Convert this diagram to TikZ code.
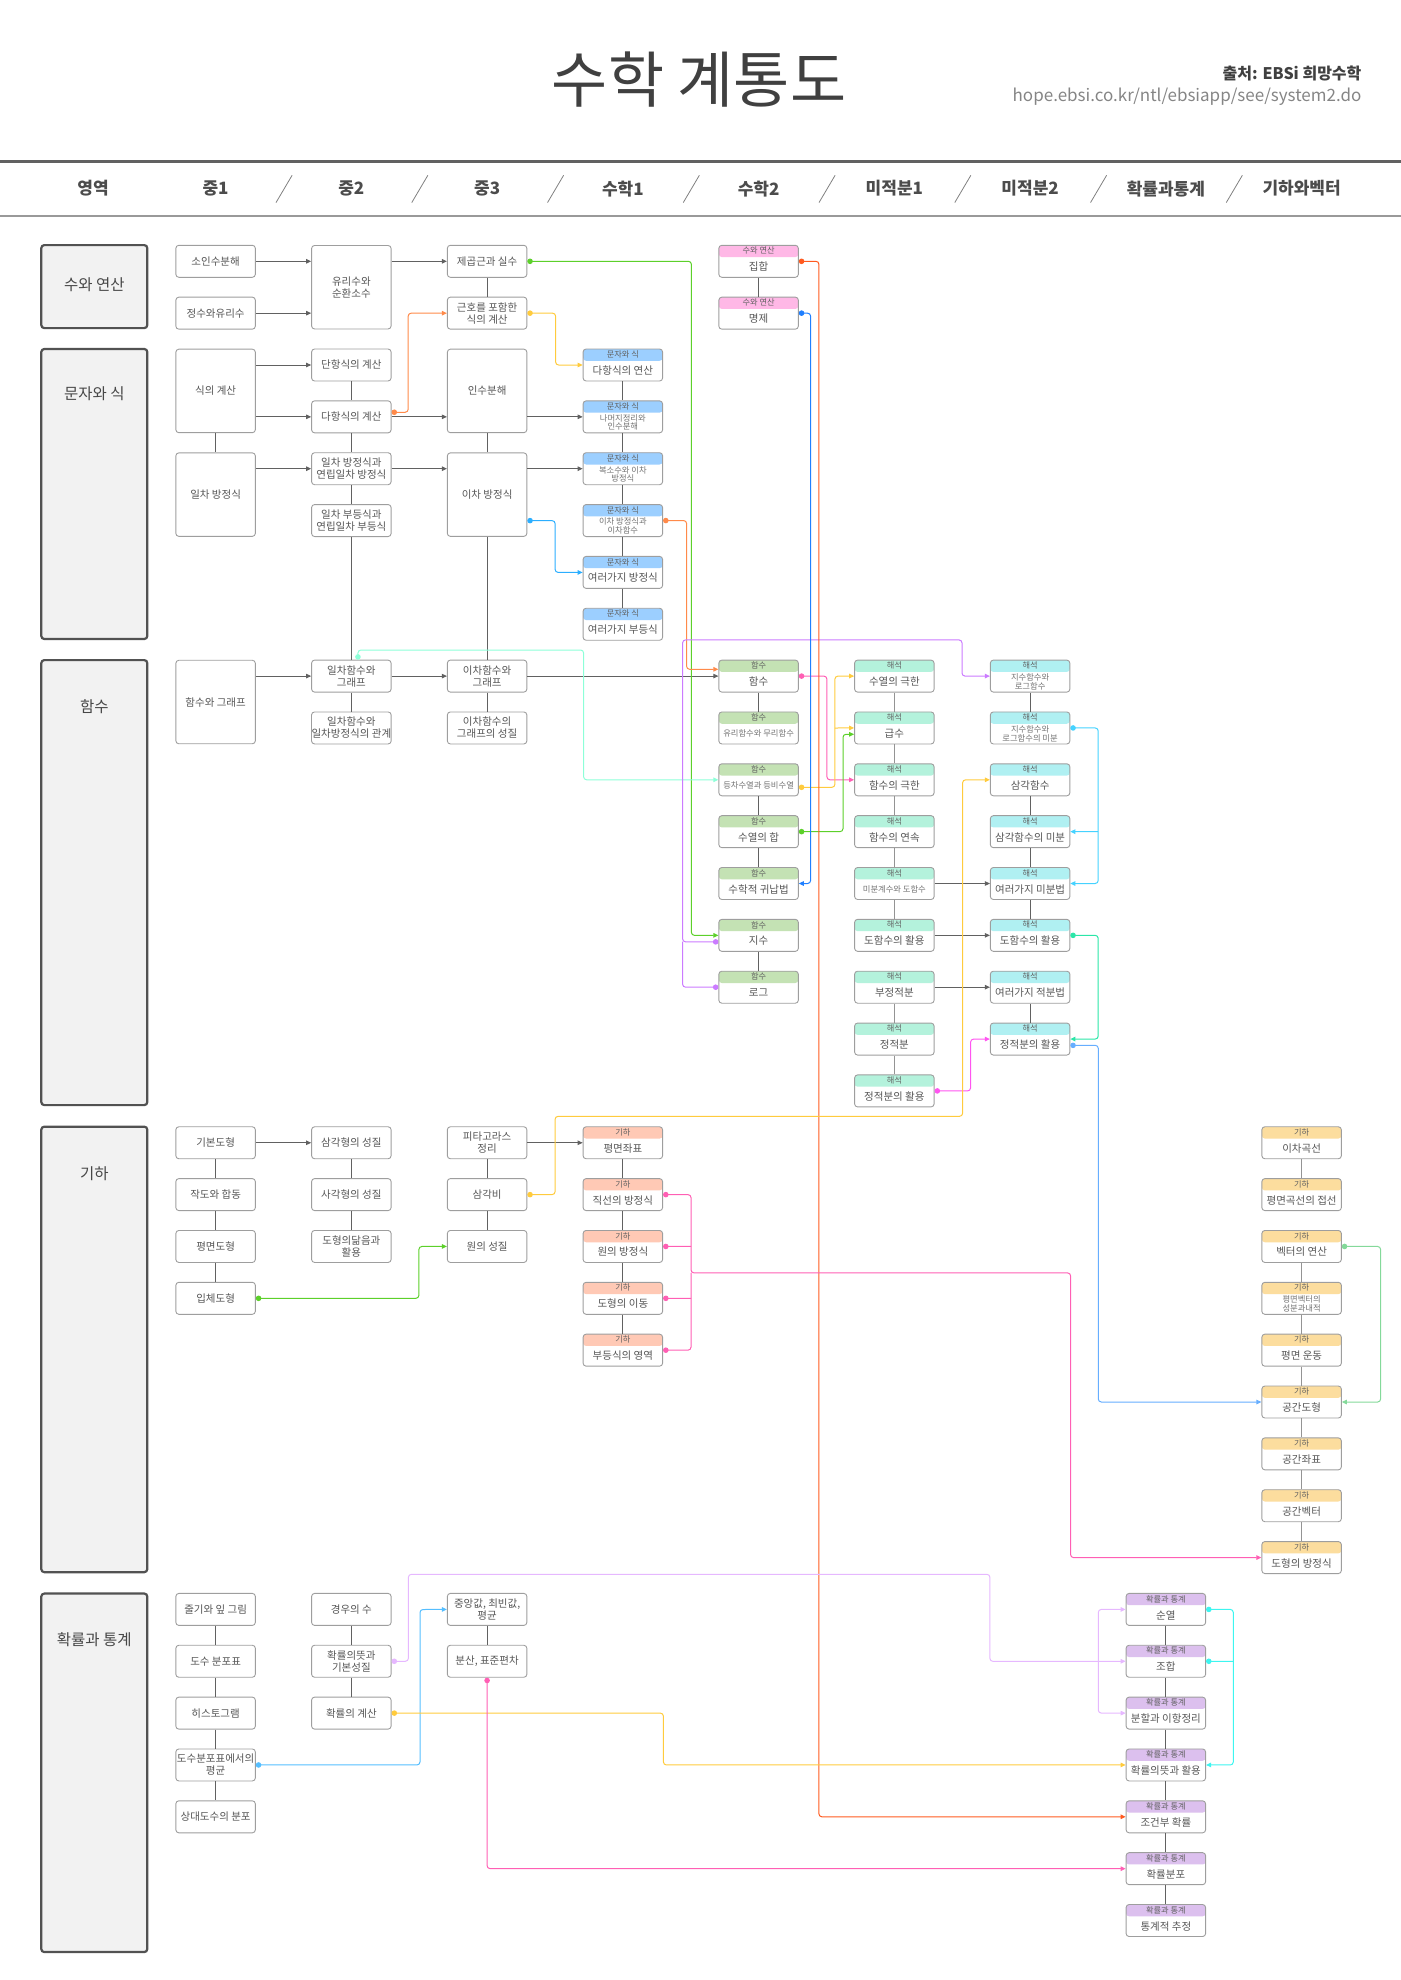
\documentclass[tikz,border=0pt]{standalone}
\usepackage{fontspec}
\setmainfont{Noto Sans CJK KR}
\usetikzlibrary{arrows.meta}
\definecolor{cset}{HTML}{FFB8E6}
\definecolor{calg}{HTML}{9CCFFF}
\definecolor{cfun}{HTML}{C4E2B4}
\definecolor{cana}{HTML}{B4F2DC}
\definecolor{cdif}{HTML}{B0F0F2}
\definecolor{cgeo}{HTML}{FFC9B5}
\definecolor{cvec}{HTML}{FCDD9E}
\definecolor{csta}{HTML}{DCC0EE}
\definecolor{lgreen}{HTML}{5CD02A}
\definecolor{lyellow}{HTML}{FFCB3D}
\definecolor{lsky}{HTML}{2BAEFF}
\definecolor{lorange}{HTML}{FF8A4A}
\definecolor{lred}{HTML}{FF5A1F}
\definecolor{lmint}{HTML}{8DFFD8}
\definecolor{lpurple}{HTML}{CB7BFF}
\definecolor{lpink}{HTML}{FF5FB4}
\definecolor{lblue}{HTML}{1F7FFF}
\definecolor{lcyan}{HTML}{45D2FF}
\definecolor{lteal}{HTML}{2BE6A8}
\definecolor{lpale}{HTML}{66AEFF}
\definecolor{lmagenta}{HTML}{FF55F0}
\definecolor{lleaf}{HTML}{84D99A}
\definecolor{llilac}{HTML}{E6B8FF}
\definecolor{laqua}{HTML}{3DF5F0}
\newcommand{\unit}[5][]{\node[unit,#1] (#2) at ({215+135.75*(#3-1)},{260.7+51.85*#4}) {#5};}
\newcommand{\tagged}[7][]{%
  \node[unit,band=#5] (#2) at ({215+135.75*(#3-1)},{260.7+51.85*#4}) {};
  \node[tagtext] (#2 tag) at ([yshift=-6pt]#2.north) {#6};
  \node[bodytext,#1] (#2 body) at ([yshift=-5.6pt]#2.center) {#7};}
\begin{document}
\begin{tikzpicture}[x=1pt,y=-1pt,
    unit/.style={draw=black!38,fill=white,line width=0.9pt,rounded corners=3pt,
      minimum width=79.5pt,minimum height=32pt,inner sep=0pt,align=center,text=black!66,
      font=\fontsize{10.5}{12}\selectfont},
    tall/.style={minimum height=83.5pt},
    band/.style={path picture={\fill[#1] (path picture bounding box.north west)
      rectangle ([yshift=-11.8pt]path picture bounding box.north east);}},
    tagtext/.style={inner sep=0pt,text=black!62,font=\fontsize{8.2}{9}\selectfont},
    bodytext/.style={inner sep=0pt,align=center,text=black!66,font=\fontsize{10.5}{12}\selectfont},
    fine/.style={text=black!55,font=\fontsize{8.3}{8.8}\selectfont},
    region/.style={draw=black!68,fill=black!5,line width=2.2pt,rounded corners=3pt,
      minimum width=106pt,inner sep=0pt},
    regiontext/.style={inner sep=0pt,text=black!72,font=\fontsize{15.5}{18}\selectfont},
    heading/.style={inner sep=0pt,text=black!70,font=\fontsize{17}{20}\selectfont\bfseries},
    stem/.style={draw=black!62,line width=0.9pt},
    stemb/.style={draw=black!42,line width=1.5pt},
    flow/.style={draw=black!62,line width=0.9pt,-{Triangle[length=5pt,width=4.5pt]}},
    dotlink/.style={rounded corners=3pt,line width=1pt,{Circle[length=5.5pt]}-{Triangle[length=5pt,width=4.5pt]}},
    dotline/.style={rounded corners=3pt,line width=1pt,{Circle[length=5.5pt]}-},
    forklink/.style={rounded corners=3pt,line width=1pt,-{Triangle[length=5pt,width=4.5pt]}}]
  \useasboundingbox (-0.6,-0.6) rectangle (1399.4,1979.4);
  \node[inner sep=0pt,text=black!75,font=\fontsize{61}{66}\selectfont] (title) at (698.5,79) {수학 계통도};
  \node[anchor=east,inner sep=0pt,text=black!75,font=\fontsize{16}{18}\selectfont\bfseries] (source) at (1361,72.5) {출처: EBSi 희망수학};
  \node[anchor=east,inner sep=0pt,text=black!48,font=\fontsize{17}{18}\selectfont] (address) at (1361,96) {hope.ebsi.co.kr/ntl/ebsiapp/see/system2.do};
  \draw[draw=black!62,line width=2.2pt] (-1,161) -- (1400,161);
  \draw[draw=black!40,line width=2.2pt] (-1,215.5) -- (1400,215.5);
  \node[heading] (area) at (92.5,188) {영역};
  \foreach \hname/\col/\htext in {mid1/1/중1,mid2/2/중2,mid3/3/중3,high1/4/수학1,high2/5/수학2,
      calc1/6/미적분1,calc2/7/미적분2,stat/8/확률과통계,vect/9/기하와벡터}
    \node[heading] (\hname) at ({215+135.75*(\col-1)},188) {\htext};
  \foreach \col in {0,...,7}
    \draw[draw=black!50,line width=0.8pt] ({275.4+135.75*\col},202) -- ({291.5+135.75*\col},174.7);

  \node[region,minimum height=83pt] (sec1) at (93.7,286) {};
  \node[regiontext] (sec1 label) at ([yshift=-41pt]sec1.north) {수와 연산};
  \node[region,minimum height=290pt] (sec2) at (93.7,493.4) {};
  \node[regiontext] (sec2 label) at ([yshift=-46pt]sec2.north) {문자와 식};
  \node[region,minimum height=445pt] (sec3) at (93.7,882) {};
  \node[regiontext] (sec3 label) at ([yshift=-48pt]sec3.north) {함수};
  \node[region,minimum height=445.5pt] (sec4) at (93.7,1348.8) {};
  \node[regiontext] (sec4 label) at ([yshift=-48pt]sec4.north) {기하};
  \node[region,minimum height=358.5pt] (sec5) at (93.7,1772.2) {};
  \node[regiontext] (sec5 label) at ([yshift=-47pt]sec5.north) {확률과 통계};

  \unit{prime}{1}{0}{소인수분해}
  \unit{intrat}{1}{1}{정수와유리수}
  \unit[tall]{rational}{2}{0.5}{유리수와\\순환소수}
  \unit{sqrtreal}{3}{0}{제곱근과 실수}
  \unit{radical}{3}{1}{근호를 포함한\\식의 계산}
  \tagged{set}{5}{0}{cset}{수와 연산}{집합}
  \tagged{prop}{5}{1}{cset}{수와 연산}{명제}

  \unit[tall]{expr}{1}{2.5}{식의 계산}
  \unit[tall]{lineq}{1}{4.5}{일차 방정식}
  \unit{mono}{2}{2}{단항식의 계산}
  \unit{poly}{2}{3}{다항식의 계산}
  \unit{simul}{2}{4}{일차 방정식과\\연립일차 방정식}
  \unit{ineq}{2}{5}{일차 부등식과\\연립일차 부등식}
  \unit[tall]{factor}{3}{2.5}{인수분해}
  \unit[tall]{quad}{3}{4.5}{이차 방정식}
  \tagged{polyop}{4}{2}{calg}{문자와 식}{다항식의 연산}
  \tagged[fine]{remain}{4}{3}{calg}{문자와 식}{나머지정리와\\인수분해}
  \tagged[fine]{complex}{4}{4}{calg}{문자와 식}{복소수와 이차\\방정식}
  \tagged[fine]{quadfn}{4}{5}{calg}{문자와 식}{이차 방정식과\\이차함수}
  \tagged{vareq}{4}{6}{calg}{문자와 식}{여러가지 방정식}
  \tagged{varineq}{4}{7}{calg}{문자와 식}{여러가지 부등식}

  \unit[tall]{fgraph}{1}{8.5}{함수와 그래프}
  \unit{lfunc}{2}{8}{일차함수와\\그래프}
  \unit{lrel}{2}{9}{일차함수와\\일차방정식의 관계}
  \unit{qfunc}{3}{8}{이차함수와\\그래프}
  \unit{qprop}{3}{9}{이차함수의\\그래프의 성질}
  \tagged{func}{5}{8}{cfun}{함수}{함수}
  \tagged[fine]{ratfn}{5}{9}{cfun}{함수}{유리함수와 무리함수}
  \tagged[fine]{geoseq}{5}{10}{cfun}{함수}{등차수열과 등비수열}
  \tagged{sumseq}{5}{11}{cfun}{함수}{수열의 합}
  \tagged{induct}{5}{12}{cfun}{함수}{수학적 귀납법}
  \tagged{expo}{5}{13}{cfun}{함수}{지수}
  \tagged{logar}{5}{14}{cfun}{함수}{로그}
  \tagged{seqlim}{6}{8}{cana}{해석}{수열의 극한}
  \tagged{series}{6}{9}{cana}{해석}{급수}
  \tagged{funclim}{6}{10}{cana}{해석}{함수의 극한}
  \tagged{contin}{6}{11}{cana}{해석}{함수의 연속}
  \tagged[fine]{deriv}{6}{12}{cana}{해석}{미분계수와 도함수}
  \tagged{derapp}{6}{13}{cana}{해석}{도함수의 활용}
  \tagged{indef}{6}{14}{cana}{해석}{부정적분}
  \tagged{defint}{6}{15}{cana}{해석}{정적분}
  \tagged{defapp}{6}{16}{cana}{해석}{정적분의 활용}
  \tagged[fine]{exlog}{7}{8}{cdif}{해석}{지수함수와\\로그함수}
  \tagged[fine]{exlogd}{7}{9}{cdif}{해석}{지수함수와\\로그함수의 미분}
  \tagged{trigf}{7}{10}{cdif}{해석}{삼각함수}
  \tagged{trigd}{7}{11}{cdif}{해석}{삼각함수의 미분}
  \tagged{vardif}{7}{12}{cdif}{해석}{여러가지 미분법}
  \tagged{derappb}{7}{13}{cdif}{해석}{도함수의 활용}
  \tagged{varint}{7}{14}{cdif}{해석}{여러가지 적분법}
  \tagged{defappb}{7}{15}{cdif}{해석}{정적분의 활용}

  \unit{basic}{1}{17}{기본도형}
  \unit{construct}{1}{18}{작도와 합동}
  \unit{plane}{1}{19}{평면도형}
  \unit{solid}{1}{20}{입체도형}
  \unit{triprop}{2}{17}{삼각형의 성질}
  \unit{quadprop}{2}{18}{사각형의 성질}
  \unit{similar}{2}{19}{도형의닮음과\\활용}
  \unit{pythag}{3}{17}{피타고라스\\정리}
  \unit{trigr}{3}{18}{삼각비}
  \unit{circprop}{3}{19}{원의 성질}
  \tagged{coord}{4}{17}{cgeo}{기하}{평면좌표}
  \tagged{lineeq}{4}{18}{cgeo}{기하}{직선의 방정식}
  \tagged{circeq}{4}{19}{cgeo}{기하}{원의 방정식}
  \tagged{transl}{4}{20}{cgeo}{기하}{도형의 이동}
  \tagged{ineqreg}{4}{21}{cgeo}{기하}{부등식의 영역}
  \tagged{conic}{9}{17}{cvec}{기하}{이차곡선}
  \tagged{tangent}{9}{18}{cvec}{기하}{평면곡선의 접선}
  \tagged{vecop}{9}{19}{cvec}{기하}{벡터의 연산}
  \tagged[fine]{veccomp}{9}{20}{cvec}{기하}{평면벡터의\\성분과내적}
  \tagged{motion}{9}{21}{cvec}{기하}{평면 운동}
  \tagged{spacefig}{9}{22}{cvec}{기하}{공간도형}
  \tagged{spacecoord}{9}{23}{cvec}{기하}{공간좌표}
  \tagged{spacevec}{9}{24}{cvec}{기하}{공간벡터}
  \tagged{figeq}{9}{25}{cvec}{기하}{도형의 방정식}

  \unit{stemleaf}{1}{26}{줄기와 잎 그림}
  \unit{freq}{1}{27}{도수 분포표}
  \unit{histo}{1}{28}{히스토그램}
  \unit{meanf}{1}{29}{도수분포표에서의\\평균}
  \unit{relfreq}{1}{30}{상대도수의 분포}
  \unit{cases}{2}{26}{경우의 수}
  \unit{probdef}{2}{27}{확률의뜻과\\기본성질}
  \unit{probcalc}{2}{28}{확률의 계산}
  \unit{median}{3}{26}{중앙값, 최빈값,\\평균}
  \unit{variance}{3}{27}{분산, 표준편차}
  \tagged{perm}{8}{26}{csta}{확률과 통계}{순열}
  \tagged{comb}{8}{27}{csta}{확률과 통계}{조합}
  \tagged{binom}{8}{28}{csta}{확률과 통계}{분할과 이항정리}
  \tagged{probuse}{8}{29}{csta}{확률과 통계}{확률의뜻과 활용}
  \tagged{condp}{8}{30}{csta}{확률과 통계}{조건부 확률}
  \tagged{dist}{8}{31}{csta}{확률과 통계}{확률분포}
  \tagged{estim}{8}{32}{csta}{확률과 통계}{통계적 추정}

  \draw[flow] (prime) -- (prime -| rational.west);
  \draw[flow] (intrat) -- (intrat -| rational.west);
  \draw[flow] (rational.east |- sqrtreal) -- (sqrtreal.west);
  \draw[stem] (sqrtreal) -- (radical);
  \draw[stem] (set) -- (prop);
  \draw[flow] (expr.east |- mono) -- (mono.west);
  \draw[flow] (expr.east |- poly) -- (poly.west);
  \draw[stem] (expr) -- (lineq);
  \draw[flow] (lineq.east |- simul) -- (simul.west);
  \draw[stem] (mono) -- (poly);
  \draw[stem] (poly) -- (simul);
  \draw[stem] (simul) -- (ineq);
  \draw[stem] (ineq) -- (lfunc);
  \draw[flow] (poly) -- (poly -| factor.west);
  \draw[flow] (simul) -- (simul -| quad.west);
  \draw[stem] (factor) -- (quad);
  \draw[stem] (quad) -- (qfunc);
  \draw[flow] (factor.east |- remain) -- (remain.west);
  \draw[flow] (quad.east |- complex) -- (complex.west);
  \draw[stem] (polyop) -- (remain);
  \draw[stem] (remain) -- (complex);
  \draw[stem] (complex) -- (quadfn);
  \draw[stem] (quadfn) -- (vareq);
  \draw[stem] (vareq) -- (varineq);
  \draw[flow] (fgraph.east |- lfunc) -- (lfunc.west);
  \draw[flow] (lfunc) -- (qfunc);
  \draw[flow] (qfunc) -- (func);
  \draw[stem] (lfunc) -- (lrel);
  \draw[stem] (qfunc) -- (qprop);
  \draw[stem] (func) -- (ratfn);
  \draw[stem] (geoseq) -- (sumseq);
  \draw[stem] (sumseq) -- (induct);
  \draw[stem] (expo) -- (logar);
  \draw[stemb] (seqlim) -- (series);
  \draw[stemb] (series) -- (funclim);
  \draw[stemb] (funclim) -- (contin);
  \draw[stemb] (contin) -- (deriv);
  \draw[stemb] (deriv) -- (derapp);
  \draw[stemb] (indef) -- (defint);
  \draw[stemb] (defint) -- (defapp);
  \draw[stem] (exlog) -- (exlogd);
  \draw[stem] (trigf) -- (trigd);
  \draw[stem] (trigd) -- (vardif);
  \draw[stem] (vardif) -- (derappb);
  \draw[stem] (varint) -- (defappb);
  \draw[flow] (deriv) -- (vardif);
  \draw[flow] (derapp) -- (derappb);
  \draw[flow] (indef) -- (varint);
  \draw[flow] (basic) -- (triprop);
  \draw[stem] (basic) -- (construct);
  \draw[stem] (construct) -- (plane);
  \draw[stem] (plane) -- (solid);
  \draw[stem] (triprop) -- (quadprop);
  \draw[stem] (quadprop) -- (similar);
  \draw[flow] (pythag) -- (coord);
  \draw[stem] (pythag) -- (trigr);
  \draw[stem] (trigr) -- (circprop);
  \draw[stem] (coord) -- (lineeq);
  \draw[stem] (lineeq) -- (circeq);
  \draw[stem] (circeq) -- (transl);
  \draw[stem] (transl) -- (ineqreg);
  \draw[stemb] (conic) -- (tangent);
  \draw[stemb] (vecop) -- (veccomp);
  \draw[stemb] (veccomp) -- (motion);
  \draw[stemb] (motion) -- (spacefig);
  \draw[stemb] (spacefig) -- (spacecoord);
  \draw[stemb] (spacecoord) -- (spacevec);
  \draw[stemb] (spacevec) -- (figeq);
  \draw[stem] (stemleaf) -- (freq);
  \draw[stem] (freq) -- (histo);
  \draw[stem] (histo) -- (meanf);
  \draw[stem] (meanf) -- (relfreq);
  \draw[stem] (cases) -- (probdef);
  \draw[stem] (probdef) -- (probcalc);
  \draw[stem] (median) -- (variance);
  \draw[stem] (perm) -- (comb);
  \draw[stem] (comb) -- (binom);
  \draw[stem] (binom) -- (probuse);
  \draw[stem] (probuse) -- (condp);
  \draw[stem] (condp) -- (dist);
  \draw[stem] (dist) -- (estim);

  \coordinate (fork series) at (834.3,727.4);
  \coordinate (fork trig) at (1097.6,830.95);
  \coordinate (fork perm) at (1097.7,1660.8);

  \draw[dotlink,lgreen] (sqrtreal.east) -| (690.8,934.75) -- (expo.west);
  \draw[dotlink,lyellow] (radical.east) -| (555,364.4) -- (polyop.west);
  \draw[dotlink,lorange] ([yshift=4.6pt]poly.east) -| (407.6,312.55) -- (radical.west);
  \draw[dotlink,lsky] ([yshift=-26pt]quad.east) -| (554.5,571.8) -- (vareq.west);
  \draw[dotlink,lorange] (quadfn.east) -| (686,668.7) -- ([yshift=6.8pt]func.west);
  \draw[dotlink,lmint] ([xshift=6.6pt]lfunc.north) |- (583,649.4) |- (geoseq.west);
  \draw[dotlink,lpurple] ([yshift=-6.5pt]expo.west) -| (682,639.3) -| (961.4,675.5) -- (exlog.west);
  \draw[dotline,lpurple] (logar.west) -| (682,941);
  \draw[dotlink,lpink] (func.east) -| (826.3,779.2) -- (funclim.west);
  \draw[dotlink,lyellow] ([yshift=-7.5pt]geoseq.east) -| (834.3,675.5) -- (seqlim.west);
  \draw[forklink,lyellow] (fork series) -- (series.west);
  \draw[dotlink,lgreen] (sumseq.east) -| (842.4,733.7) -- ([yshift=-6.3pt]series.west);
  \draw[dotlink,lblue] (prop.east) -| (810,882.9) -- (induct.east);
  \draw[dotlink,lred] (set.east) -| (818.3,1816.2) -- (condp.west);
  \draw[dotlink,lcyan] (exlogd.east) -| (1097.6,882.9) -- (vardif.east);
  \draw[forklink,lcyan] (fork trig) -- (trigd.east);
  \draw[dotlink,lteal] (derappb.east) -| (1097.6,1038.45) -- (defappb.east);
  \draw[dotlink,lpale] ([yshift=-6.3pt]defappb.east) -| (1097.7,1401.4) -- (spacefig.west);
  \draw[dotlink,lmagenta] (defapp.east) -| (970,1038.45) -- (defappb.west);
  \draw[dotlink,lyellow] (trigr.east) -| (554.5,1115.7) -| (962,779.2) -- (trigf.west);
  \draw[dotlink,lgreen] (solid.east) -| (418.3,1245.85) -- (circprop.west);
  \draw[dotlink,lpink] (lineeq.east) -| (690.4,1272.3) -| (1070,1557) -- (figeq.west);
  \draw[dotline,lpink] (ineqreg.east) -| (690.4,1272.3);
  \draw[dotline,lpink] (circeq.east) -- (690.4,1245.85);
  \draw[dotline,lpink] (transl.east) -- (690.4,1297.7);
  \draw[dotlink,lleaf] (vecop.east) -| (1380,1401.4) -- (spacefig.east);
  \draw[dotlink,llilac] (probdef.east) -| (407.8,1573.7) -| (989.3,1660.75) -- (comb.west);
  \draw[forklink,llilac] (fork perm) |- (perm.west);
  \draw[forklink,llilac] (fork perm) |- (binom.west);
  \draw[dotlink,laqua] (perm.east) -| (1232.7,1764.35) -- (probuse.east);
  \draw[dotline,laqua] (comb.east) -- (1232.7,1660.75);
  \draw[dotlink,lsky!80] (meanf.east) -| (419.4,1608.9) -- (median.west);
  \draw[dotlink,lyellow] (probcalc.east) -| (662.8,1764.35) -- (probuse.west);
  \draw[dotlink,lpink] (variance.south) |- (dist.west);
\end{tikzpicture}
\end{document}
